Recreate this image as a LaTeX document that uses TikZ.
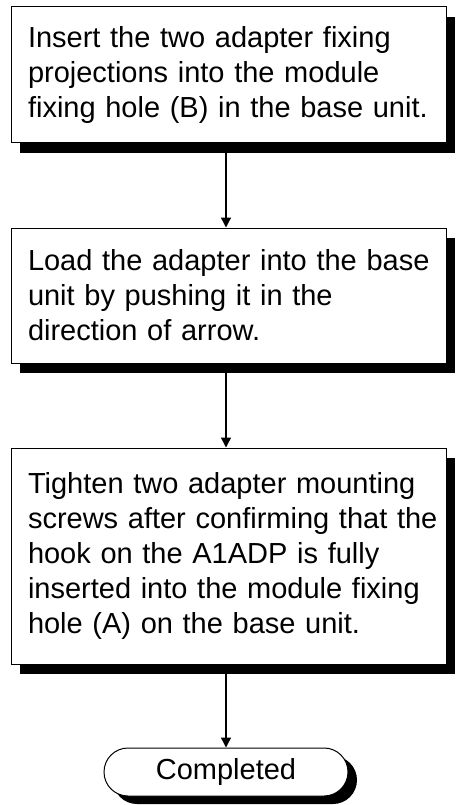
\documentclass[tikz,border=0pt]{standalone}
\usepackage{fontspec}
\setmainfont{Liberation Sans}
\usetikzlibrary{shadows,shapes.misc,arrows.meta}
\begin{document}
\begin{tikzpicture}[x=1pt,y=-1pt,
  txt/.style={font=\fontsize{29}{35}\selectfont},
  stepbox/.style={txt, rectangle, draw, line width=1pt, fill=white,
    text width=401pt, inner xsep=17pt, inner ysep=0pt, align=left,
    drop shadow={shadow xshift=9pt, shadow yshift=-10pt, fill=black, opacity=1}},
  endbox/.style={txt, rounded rectangle, draw, line width=1pt, fill=white,
    minimum width=244pt, minimum height=48pt, inner sep=0pt,
    drop shadow={shadow xshift=9pt, shadow yshift=-8pt, fill=black, opacity=1}},
  flow/.style={line width=1.4pt, -{Triangle[length=10pt,width=10pt]}}]
\useasboundingbox (0,0) rectangle (455,805);

% process steps, one line per \mbox so the breaks stay fixed
\node[stepbox, minimum height=135.7pt] (b1) at (228.5,74.85)
  {\mbox{Insert the two adapter fixing}\\
   \mbox{projections into the module}\\
   \mbox{fixing hole (B) in the base unit.}};
\node[stepbox, minimum height=135pt] (b2) at (228.5,295.5)
  {\mbox{Load the adapter into the base}\\
   \mbox{unit by pushing it in the}\\
   \mbox{direction of arrow.}};
\node[stepbox, minimum height=216pt] (b3) at (228.5,556)
  {\mbox{Tighten two adapter mounting}\\
   \mbox{screws after confirming that the}\\
   \mbox{hook on the A1ADP is fully}\\
   \mbox{inserted into the module fixing}\\
   \mbox{hole (A) on the base unit.}};
\node[endbox] (done) at (226,772) {Completed};

\draw[flow] (b1.south -| done.north) -- (b2.north -| done.north);
\draw[flow] (b2.south -| done.north) -- (b3.north -| done.north);
\draw[flow] (b3.south -| done.north) -- (done.north);
\end{tikzpicture}
\end{document}
